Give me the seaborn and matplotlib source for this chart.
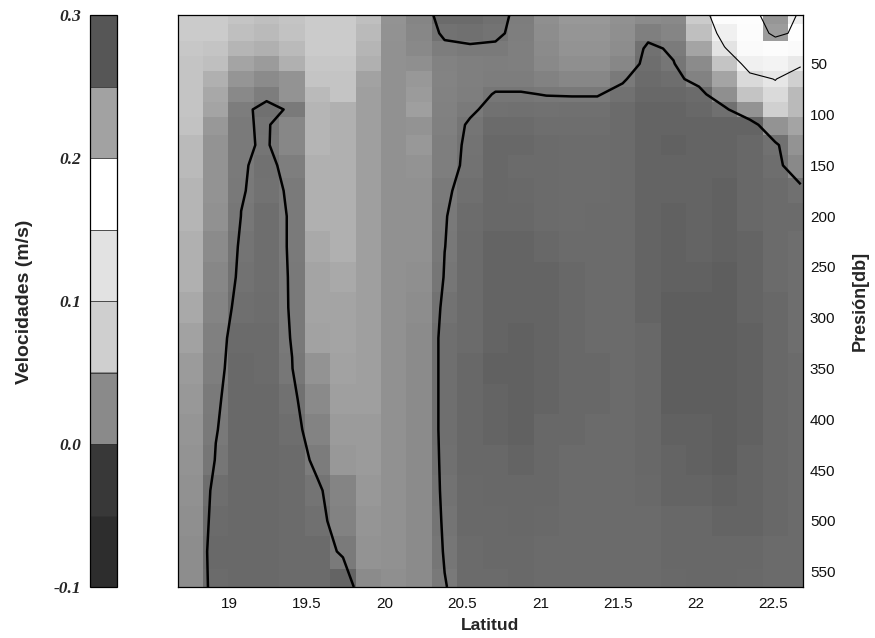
import numpy as np
import matplotlib
matplotlib.use("Agg")
import matplotlib.pyplot as plt
from matplotlib.colors import LinearSegmentedColormap, ListedColormap, BoundaryNorm, Normalize
from matplotlib.cm import ScalarMappable
import seaborn as sns

# Station latitudes (column centres) and pressure levels (row centres, db)
latitud = [18.749, 18.913, 19.076, 19.240, 19.404, 19.567, 19.731, 19.894,
           20.058, 20.221, 20.385, 20.549, 20.712, 20.876, 21.039, 21.203,
           21.367, 21.530, 21.694, 21.857, 22.021, 22.185, 22.348, 22.512, 22.675]
presion = [2, 20, 35, 50, 65, 80, 95, 110, 130, 150, 175, 200, 230, 260,
           290, 320, 350, 380, 410, 440, 470, 500, 530, 565]

# Geostrophic velocity (m/s), one row per pressure level
velocidad = [
    [0.125, 0.125, 0.120, 0.115, 0.120, 0.125, 0.125, 0.115, 0.060, 0.025, -0.020, -0.020, -0.012, 0.010, 0.050, 0.070, 0.070, 0.055, 0.040, 0.035, 0.125, 0.185, 0.190, 0.215, 0.197],
    [0.125, 0.125, 0.115, 0.110, 0.118, 0.125, 0.125, 0.110, 0.058, 0.030, -0.008, -0.012, -0.007, 0.012, 0.045, 0.065, 0.065, 0.050, 0.015, 0.025, 0.115, 0.165, 0.185, 0.205, 0.195],
    [0.123, 0.120, 0.105, 0.100, 0.110, 0.125, 0.125, 0.105, 0.056, 0.035, 0.010, 0.005, 0.006, 0.015, 0.040, 0.060, 0.060, 0.045, -0.010, 0.007, 0.090, 0.148, 0.180, 0.185, 0.180],
    [0.120, 0.115, 0.090, 0.075, 0.100, 0.123, 0.123, 0.100, 0.055, 0.050, 0.020, 0.015, 0.012, 0.015, 0.035, 0.050, 0.050, 0.030, -0.015, -0.002, 0.040, 0.120, 0.165, 0.170, 0.155],
    [0.120, 0.100, 0.065, 0.040, 0.060, 0.120, 0.120, 0.085, 0.055, 0.070, 0.022, 0.015, 0.010, 0.010, 0.020, 0.030, 0.030, 0.004, -0.020, -0.015, 0.020, 0.090, 0.140, 0.151, 0.130],
    [0.120, 0.093, 0.035, 0.010, 0.060, 0.110, 0.120, 0.080, 0.056, 0.075, 0.020, 0.012, -0.002, -0.002, 0.001, 0.002, 0.002, -0.010, -0.025, -0.025, -0.020, 0.050, 0.120, 0.140, 0.110],
    [0.120, 0.090, 0.010, -0.012, 0.006, 0.105, 0.100, 0.080, 0.056, 0.080, 0.018, 0.005, -0.010, -0.012, -0.010, -0.012, -0.012, -0.020, -0.030, -0.030, -0.025, -0.012, 0.060, 0.130, 0.110],
    [0.118, 0.070, 0.005, -0.005, 0.030, 0.105, 0.100, 0.080, 0.056, 0.060, 0.016, -0.004, -0.020, -0.020, -0.015, -0.015, -0.015, -0.020, -0.030, -0.030, -0.030, -0.030, -0.030, 0.060, 0.090],
    [0.110, 0.060, 0.005, -0.004, 0.030, 0.105, 0.100, 0.080, 0.056, 0.070, 0.014, -0.007, -0.025, -0.025, -0.020, -0.018, -0.018, -0.020, -0.030, -0.035, -0.030, -0.030, -0.025, -0.010, 0.060],
    [0.110, 0.060, 0.004, -0.010, 0.014, 0.100, 0.100, 0.080, 0.056, 0.060, 0.012, -0.008, -0.025, -0.020, -0.020, -0.018, -0.018, -0.020, -0.030, -0.030, -0.030, -0.030, -0.025, -0.015, 0.035],
    [0.105, 0.060, 0.002, -0.009, 0.0045, 0.100, 0.100, 0.080, 0.056, 0.055, 0.006, -0.014, -0.025, -0.022, -0.020, -0.018, -0.018, -0.020, -0.030, -0.030, -0.030, -0.035, -0.025, -0.020, -0.012],
    [0.105, 0.055, -0.0005, -0.015, 0.004, 0.100, 0.100, 0.080, 0.056, 0.055, 0.002, -0.018, -0.025, -0.025, -0.020, -0.018, -0.020, -0.020, -0.030, -0.035, -0.030, -0.035, -0.025, -0.020, -0.020],
    [0.100, 0.040, -0.006, -0.015, 0.004, 0.095, 0.100, 0.080, 0.056, 0.055, 0.0005, -0.020, -0.030, -0.030, -0.025, -0.020, -0.020, -0.020, -0.030, -0.035, -0.030, -0.035, -0.030, -0.020, -0.015],
    [0.100, 0.030, -0.008, -0.015, 0.003, 0.090, 0.095, 0.080, 0.056, 0.050, -0.0023, -0.020, -0.030, -0.030, -0.030, -0.025, -0.020, -0.020, -0.030, -0.035, -0.035, -0.040, -0.030, -0.020, -0.015],
    [0.095, 0.024, -0.014, -0.017, 0.003, 0.090, 0.090, 0.080, 0.056, 0.045, -0.009, -0.020, -0.030, -0.030, -0.030, -0.025, -0.020, -0.020, -0.030, -0.040, -0.040, -0.040, -0.030, -0.025, -0.015],
    [0.085, 0.016, -0.020, -0.020, 0.0017, 0.085, 0.090, 0.080, 0.056, 0.040, -0.013, -0.020, -0.030, -0.035, -0.030, -0.025, -0.020, -0.020, -0.025, -0.040, -0.040, -0.040, -0.035, -0.025, -0.015],
    [0.075, 0.012, -0.022, -0.020, -0.001, 0.060, 0.085, 0.080, 0.056, 0.040, -0.013, -0.025, -0.035, -0.035, -0.030, -0.025, -0.025, -0.020, -0.025, -0.040, -0.040, -0.040, -0.035, -0.025, -0.020],
    [0.070, 0.006, -0.022, -0.022, -0.010, 0.036, 0.080, 0.080, 0.056, 0.040, -0.013, -0.025, -0.030, -0.035, -0.030, -0.025, -0.025, -0.020, -0.025, -0.040, -0.040, -0.040, -0.035, -0.025, -0.020],
    [0.065, 0.002, -0.022, -0.022, -0.015, 0.0225, 0.075, 0.075, 0.056, 0.040, -0.013, -0.025, -0.030, -0.035, -0.025, -0.025, -0.020, -0.020, -0.025, -0.035, -0.035, -0.040, -0.035, -0.025, -0.020],
    [0.060, -0.0025, -0.022, -0.022, -0.020, 0.009, 0.070, 0.075, 0.055, 0.040, -0.011, -0.025, -0.025, -0.030, -0.025, -0.020, -0.020, -0.020, -0.025, -0.030, -0.035, -0.040, -0.030, -0.025, -0.020],
    [0.055, -0.015, -0.022, -0.022, -0.020, -0.006, 0.024, 0.070, 0.055, 0.040, -0.009, -0.022, -0.025, -0.025, -0.025, -0.020, -0.020, -0.020, -0.022, -0.030, -0.030, -0.035, -0.030, -0.025, -0.020],
    [0.050, -0.019, -0.022, -0.022, -0.020, -0.012, 0.019, 0.065, 0.055, 0.040, -0.006, -0.022, -0.022, -0.025, -0.022, -0.020, -0.020, -0.020, -0.020, -0.025, -0.025, -0.030, -0.030, -0.025, -0.020],
    [0.045, -0.023, -0.022, -0.022, -0.020, -0.019, 0.006, 0.060, 0.055, 0.040, -0.003, -0.020, -0.022, -0.022, -0.020, -0.020, -0.020, -0.020, -0.020, -0.025, -0.025, -0.025, -0.025, -0.020, -0.020],
    [0.045, -0.020, -0.022, -0.022, -0.020, -0.020, -0.030, 0.040, 0.050, 0.040, 0.002, -0.020, -0.020, -0.022, -0.020, -0.020, -0.020, -0.020, -0.020, -0.022, -0.025, -0.025, -0.022, -0.020, -0.020],
]

# Colour-bar classes and their grey shades
cbar_limites = [-0.1, -0.05, 0.0, 0.05, 0.1, 0.15, 0.2, 0.25, 0.3]
cbar_grises = ["#2d2d2d", "#383838", "#8a8a8a", "#cfcfcf", "#e2e2e2",
               "#ffffff", "#a2a2a2", "#565656"]
cbar_ticks = [-0.1, 0.0, 0.1, 0.2, 0.3]
x_ticks = [19, 19.5, 20, 20.5, 21, 21.5, 22, 22.5]
y_ticks = [50, 100, 150, 200, 250, 300, 350, 400, 450, 500, 550]

sns.set_theme(style="white")
plt.rcParams["font.family"] = ["Liberation Sans", "DejaVu Sans"]

# Grey ramp used for the velocity field
vmin, vmax = -0.1, 0.3
nodos = [(-0.10, 0.24), (-0.06, 0.32), (-0.04, 0.37), (-0.03, 0.395),
         (-0.02, 0.42), (-0.01, 0.445), (0.00, 0.47), (0.03, 0.53),
         (0.06, 0.575), (0.09, 0.645), (0.12, 0.77), (0.15, 0.90),
         (0.18, 0.98), (0.197, 1.00), (0.203, 0.62), (0.24, 0.52),
         (0.30, 0.33)]
campo_cmap = LinearSegmentedColormap.from_list(
    "grises", [((v - vmin) / (vmax - vmin), (g, g, g)) for v, g in nodos])

V = np.array(velocidad)

fig = plt.figure(figsize=(8.75, 6.38), dpi=100)
ax = fig.add_axes([178 / 875, 1 - 587 / 638, 625 / 875, 572 / 638])
cax = fig.add_axes([90 / 875, 1 - 587 / 638, 27 / 875, 572 / 638])

ax.pcolormesh(latitud, presion, V, cmap=campo_cmap,
              norm=Normalize(vmin, vmax), shading="nearest")
ax.contour(latitud, presion, V, levels=[0.0], colors="black", linewidths=1.8)
ax.contour(latitud, presion, V, levels=[0.15, 0.2], colors="black", linewidths=0.8)

ax.set_xlim(18.67, 22.69)
ax.set_ylim(565, 2)
ax.yaxis.tick_right()
ax.yaxis.set_label_position("right")
ax.set_xticks(x_ticks)
ax.set_xticklabels([f"{t:g}" for t in x_ticks])
ax.set_yticks(y_ticks)
ax.tick_params(axis="both", which="both", length=0, labelsize=11, colors="#111111")
ax.tick_params(axis="x", pad=7)
ax.tick_params(axis="y", pad=5)
ax.set_xlabel("Latitud", fontsize=12.5, fontweight="bold", labelpad=5)
ax.set_ylabel("Presión[db]", fontsize=13, fontweight="bold", labelpad=12)
for s in ax.spines.values():
    s.set_color("black")
    s.set_linewidth(0.9)

sm = ScalarMappable(norm=BoundaryNorm(cbar_limites, len(cbar_grises)),
                    cmap=ListedColormap(cbar_grises))
cb = fig.colorbar(sm, cax=cax, drawedges=True, ticks=cbar_ticks)
cb.outline.set_linewidth(0.9)
cb.outline.set_edgecolor("black")
cb.dividers.set_linewidth(0.6)
cb.dividers.set_color("#333333")
cb.minorticks_off()
cax.yaxis.set_ticks_position("left")
cax.tick_params(which="both", length=0, pad=6)
cax.set_yticklabels([f"{t:.1f}" for t in cbar_ticks], family="Liberation Serif",
                    fontweight="bold", fontstyle="italic", fontsize=12.5)

fig.text(25 / 875, 1 - 302 / 638, "Velocidades (m/s)", rotation=90,
         ha="center", va="center", fontsize=14, fontweight="bold")

fig.savefig("out.png", dpi=100)
